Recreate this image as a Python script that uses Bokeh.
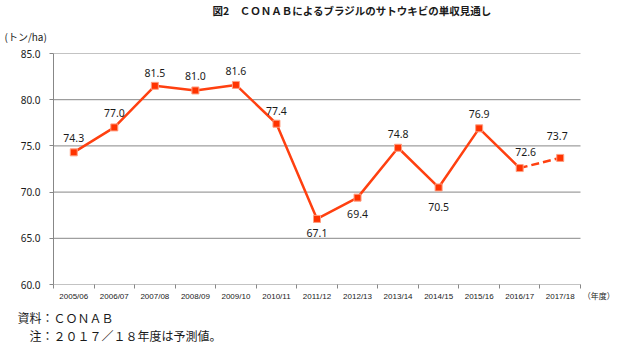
from bokeh.plotting import figure
from bokeh.models import Range1d, FixedTicker, ColumnDataSource, NumeralTickFormatter, Title
from bokeh.core.properties import value
from bokeh.embed import file_html
from bokeh.resources import INLINE

# ---- data ----
seasons = ["2005/06", "2006/07", "2007/08", "2008/09", "2009/10", "2010/11", "2011/12",
           "2012/13", "2013/14", "2014/15", "2015/16", "2016/17", "2017/18"]
yields = [74.3, 77.0, 81.5, 81.0, 81.6, 77.4, 67.1, 69.4, 74.8, 70.5, 76.9, 72.6, 73.7]
y_ticks = [60, 65, 70, 75, 80, 85]
title_text = "図2　ＣＯＮＡＢによるブラジルのサトウキビの単収見通し"
unit_text = "(トン/ha)"
xunit_text = "（年度）"
source_text = "資料：ＣＯＮＡＢ"
note_text = "　注：２０１７／１８年度は予測値。"
n_actual = 12  # last value is a forecast

# ---- styling (label offsets in px, negative = up) ----
label_dy = [-14, -14, -13, -14, -14, -13, 14, 16, -14, 20, -14, -16, -22]
label_dx = [0, 0, 0, 0, 0, 0, 0, 0, 0, 0, 0, 6, -3]

LINE = "#FF4010"
GRID = "#878787"
FONT = "Noto Sans CJK JP"

W, H = 624, 344
L, R = 53, 580          # plot area in pixels (gridlines end at R)
n = len(seasons)
x_end = n * (W - L) / (R - L)   # frame extends to the right edge to host the unit label

p = figure(width=W, height=H, output_backend="svg", toolbar_location=None,
           x_range=Range1d(0, x_end), y_range=Range1d(60, 85),
           min_border_left=L, min_border_right=0, min_border_top=53, min_border_bottom=60)
p.outline_line_color = None
p.background_fill_color = "white"
p.border_fill_color = "white"

xs = [i + 0.5 for i in range(n)]

# horizontal gridlines (incl. the category axis line at 60), limited to the category span
p.segment(x0=[0] * len(y_ticks), x1=[n] * len(y_ticks), y0=y_ticks, y1=y_ticks,
          line_color=GRID, line_width=1)

# lines
p.line(xs[:n_actual], yields[:n_actual], line_color=LINE, line_width=2.5)
p.line(xs[n_actual - 1:], yields[n_actual - 1:], line_color=LINE, line_width=2.5, line_dash="8 4")
p.scatter(xs, yields, marker="square", size=7, fill_color="#FF3300", line_color="#FF9E80", line_width=1)

# data labels
src = ColumnDataSource(dict(x=xs, y=yields, t=[f"{v:.1f}" for v in yields],
                            dx=label_dx, dy=label_dy))
p.text(x="x", y="y", text="t", x_offset="dx", y_offset="dy", source=src,
       text_align="center", text_baseline="middle", text_font_size="10.5px",
       text_color="#1a1a1a", text_font=value("Noto Sans"))

# axes
yax = p.yaxis[0]
yax.ticker = FixedTicker(ticks=y_ticks)
yax.formatter = NumeralTickFormatter(format="0.0")
yax.axis_line_color = GRID
yax.major_tick_line_color = GRID
yax.major_tick_out = 4
yax.major_tick_in = 0
yax.minor_tick_line_color = None
yax.major_label_text_font = "Noto Sans"
yax.major_label_text_font_size = "10px"
yax.major_label_text_color = "#1a1a1a"
yax.major_label_standoff = 9

unit_x = n + 0.45
xax = p.xaxis[0]
xax.ticker = FixedTicker(ticks=xs + [unit_x], minor_ticks=list(range(n + 1)))
overrides = {x: s for x, s in zip(xs, seasons)}
overrides[unit_x] = xunit_text
xax.major_label_overrides = overrides
xax.axis_line_color = None
xax.major_tick_line_color = None
xax.major_tick_out = 0
xax.minor_tick_line_color = GRID
xax.minor_tick_out = 4
xax.minor_tick_in = 0
xax.major_label_text_font = "Liberation Sans, Noto Sans CJK JP"
xax.major_label_text_font_size = "8px"
xax.major_label_text_color = "#1a1a1a"
xax.major_label_standoff = 3

p.xgrid.grid_line_color = None
p.ygrid.grid_line_color = None


def add_title(text, place, size, offset, align="left", weight="normal", standoff=0):
    t = Title(text=text, align=align, offset=offset, text_font=FONT, text_font_size=size,
              text_color="#1a1a1a", text_font_style=weight, standoff=standoff)
    p.add_layout(t, place)


# above: closest to frame first
add_title(unit_text, "above", "10px", 4 - L, standoff=19)
add_title(title_text, "above", "10.5px", 212 - L, weight="bold", standoff=-1)
# below: after the x axis
add_title(source_text, "below", "12px", 17 - L, standoff=7)
add_title(note_text, "below", "12px", 17 - L, standoff=-10)

open("out.html", "w").write(file_html(p, INLINE))
